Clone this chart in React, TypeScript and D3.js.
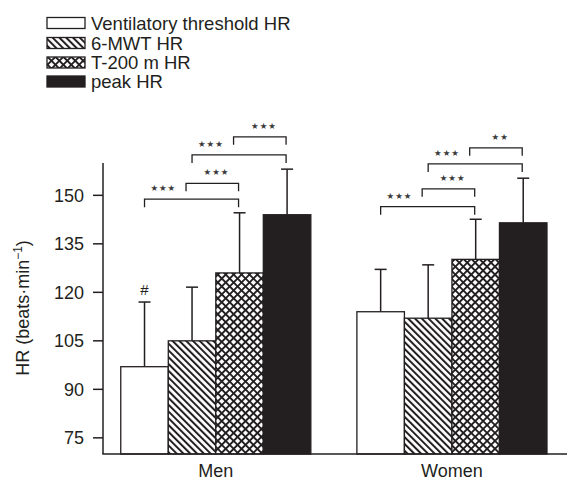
import React from "react";
import * as d3 from "d3";

const groups = ["Men", "Women"];
const series = ["Ventilatory threshold HR", "6-MWT HR", "T-200 m HR", "peak HR"];
const menMeans = [97, 105, 126, 144];
const menSD = [20, 16.6, 18.6, 14.1];
const womenMeans = [114, 112, 130.2, 141.5];
const womenSD = [13.1, 16.5, 12.4, 13.8];
const yTicks = [75, 90, 105, 120, 135, 150];
// comparisons: group, from series, to series, bracket height (HR units), label
const compGroup = ["Men", "Men", "Men", "Men", "Women", "Women", "Women", "Women"];
const compFrom = [0, 1, 1, 2, 0, 1, 1, 2];
const compTo = [2, 2, 3, 3, 2, 2, 3, 3];
const compLevel = [148.8, 153.7, 162.5, 168.1, 146.5, 152, 159.7, 164.7];
const compLabel = ["★★★", "★★★", "★★★", "★★★", "★★★", "★★★", "★★★", "★★"];
const markers = [{ group: "Men", series: 0, text: "#" }];

const W = 568;
const H = 482;
const INK = "#231f20";
const FONT = "'Liberation Sans', Arial, Helvetica, sans-serif";

export default function App() {
  const x0 = d3
    .scaleBand<string>()
    .domain(groups)
    .range([103, 567])
    .paddingInner(0.195)
    .paddingOuter(0.08)
    .align(0.47);
  const x1 = d3
    .scaleBand<number>()
    .domain(d3.range(series.length))
    .range([0, x0.bandwidth()])
    .padding(0);
  const y = d3.scaleLinear().domain([70, 160]).range([454, 163]);

  const means: Record<string, number[]> = { Men: menMeans, Women: womenMeans };
  const sds: Record<string, number[]> = { Men: menSD, Women: womenSD };
  const fills = ["#ffffff", "url(#diag)", "url(#cross)", INK];

  const cx = (g: string, i: number) => (x0(g) as number) + (x1(i) as number) + x1.bandwidth() / 2;

  const legendY = [23, 43, 62.5, 81.5];

  return (
    <svg
      width={W}
      height={H}
      style={{ position: "absolute", left: 0, top: 0, background: "#fff" }}
      fontFamily={FONT}
    >
      <defs>
        <pattern id="diag" patternUnits="userSpaceOnUse" width={4.8} height={4.8} patternTransform="rotate(-45)">
          <rect width={4.8} height={4.8} fill="#fff" />
          <rect x={0} y={0} width={2} height={4.8} fill={INK} />
        </pattern>
        <pattern id="cross" patternUnits="userSpaceOnUse" width={5.6} height={5.6} patternTransform="rotate(45)">
          <rect width={5.6} height={5.6} fill="#fff" />
          <rect x={0} y={0} width={1.9} height={5.6} fill={INK} />
          <rect x={0} y={0} width={5.6} height={1.9} fill={INK} />
        </pattern>
      </defs>

      {/* Legend */}
      {series.map((s, i) => (
        <g key={s}>
          <rect
            x={47}
            y={legendY[i] - 5.5}
            width={38}
            height={11}
            fill={fills[i]}
            stroke={INK}
            strokeWidth={1.3}
          />
          <text x={91} y={legendY[i]} dy="0.36em" fontSize={18.5} fill={INK}>
            {s}
          </text>
        </g>
      ))}

      {/* Bars */}
      {groups.map((g) =>
        series.map((s, i) => {
          const xb = (x0(g) as number) + (x1(i) as number);
          const m = means[g][i];
          return (
            <g key={g + s}>
              <line
                x1={cx(g, i)}
                x2={cx(g, i)}
                y1={y(m)}
                y2={y(m + sds[g][i])}
                stroke={INK}
                strokeWidth={1.5}
              />
              <line
                x1={cx(g, i) - 6}
                x2={cx(g, i) + 6}
                y1={y(m + sds[g][i])}
                y2={y(m + sds[g][i])}
                stroke={INK}
                strokeWidth={1.5}
              />
              <rect
                x={xb}
                y={y(m)}
                width={x1.bandwidth()}
                height={y(70) - y(m)}
                fill={fills[i]}
                stroke={INK}
                strokeWidth={1.3}
              />
            </g>
          );
        })
      )}

      {/* Markers */}
      {markers.map((mk) => (
        <text
          key={mk.group + mk.series}
          x={cx(mk.group, mk.series)}
          y={y(means[mk.group][mk.series] + sds[mk.group][mk.series]) - 7}
          textAnchor="middle"
          fontSize={15}
          fill={INK}
        >
          {mk.text}
        </text>
      ))}

      {/* Comparison brackets */}
      {compGroup.map((g, k) => {
        const span = compTo[k] - compFrom[k];
        const xa = cx(g, compFrom[k]) - (span === 1 ? 6 : 0);
        const xbb = cx(g, compTo[k]) - 1;
        const yy = y(compLevel[k]);
        const frac = span >= 2 ? 0.2 : 0.58;
        return (
          <g key={"c" + k}>
            <path
              d={`M${xa},${yy + 8}V${yy}H${xbb}V${yy + 8}`}
              fill="none"
              stroke={INK}
              strokeWidth={1.3}
            />
            <text
              x={xa + (xbb - xa) * frac}
              y={yy - 11}
              dy="0.35em"
              textAnchor="middle"
              fontSize={8.5}
              letterSpacing={1}
              fill="#3a3a3a"
              fontFamily="'DejaVu Sans', sans-serif"
            >
              {compLabel[k]}
            </text>
          </g>
        );
      })}

      {/* Axes */}
      <line x1={103} x2={103} y1={y(160)} y2={y(70)} stroke={INK} strokeWidth={1.5} />
      <line x1={102.3} x2={567} y1={y(70)} y2={y(70)} stroke={INK} strokeWidth={1.5} />
      {yTicks.map((t) => (
        <g key={t}>
          <line x1={93} x2={103} y1={y(t)} y2={y(t)} stroke={INK} strokeWidth={1.5} />
          <text x={84} y={y(t)} dy="0.36em" textAnchor="end" fontSize={18} fill={INK}>
            {t}
          </text>
        </g>
      ))}
      {groups.map((g) => (
        <text
          key={g}
          x={(x0(g) as number) + x0.bandwidth() / 2}
          y={477}
          textAnchor="middle"
          fontSize={18}
          fill={INK}
        >
          {g}
        </text>
      ))}
      <text
        transform="translate(29,308) rotate(-90)"
        textAnchor="middle"
        fontSize={18}
        fill={INK}
      >
        HR (beats·min
        <tspan dy={-7} fontSize={12}>
          −1
        </tspan>
        <tspan dy={7}>)</tspan>
      </text>
    </svg>
  );
}
